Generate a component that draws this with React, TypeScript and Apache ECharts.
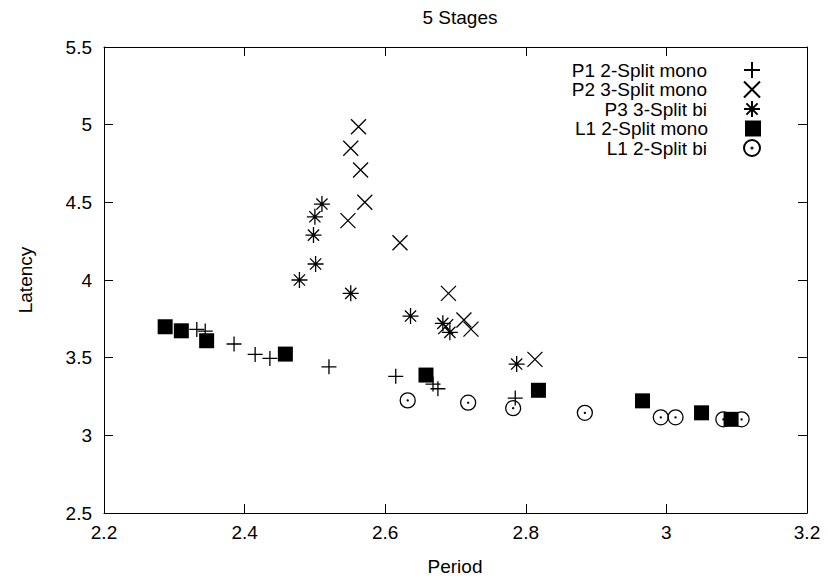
import React, { useEffect, useRef } from "react";
import * as echarts from "echarts";

const xTicks = [2.2, 2.4, 2.6, 2.8, 3, 3.2];
const yTicks = [2.5, 3, 3.5, 4, 4.5, 5, 5.5];

const seriesNames = [
  "P1 2-Split mono",
  "P2 3-Split mono",
  "P3 3-Split bi",
  "L1 2-Split mono",
  "L1 2-Split bi",
];

const p1X = [2.332, 2.344, 2.385, 2.415, 2.436, 2.52, 2.615, 2.668, 2.675, 2.785];
const p1Y = [3.682, 3.671, 3.588, 3.521, 3.495, 3.441, 3.38, 3.33, 3.3, 3.24];

const p2X = [2.562, 2.551, 2.565, 2.571, 2.547, 2.621, 2.69, 2.686, 2.712, 2.722, 2.813];
const p2Y = [4.987, 4.848, 4.708, 4.5, 4.382, 4.24, 3.914, 3.7, 3.742, 3.684, 3.489];

const p3X = [2.478, 2.501, 2.498, 2.5, 2.51, 2.551, 2.636, 2.682, 2.692, 2.787];
const p3Y = [4.0, 4.103, 4.289, 4.407, 4.489, 3.914, 3.768, 3.721, 3.663, 3.459];

const l1mX = [2.287, 2.31, 2.346, 2.458, 2.658, 2.818, 2.966, 3.05, 3.092];
const l1mY = [3.699, 3.673, 3.609, 3.523, 3.388, 3.29, 3.222, 3.145, 3.103];

const l1bX = [2.632, 2.718, 2.782, 2.884, 2.992, 3.013, 3.081, 3.107];
const l1bY = [3.225, 3.21, 3.175, 3.145, 3.116, 3.116, 3.103, 3.103];

const FONT = "'Liberation Sans', Arial, sans-serif";
const FS = 19;

const SYM_PLUS = "path://M0,5L10,5M5,0L5,10";
const SYM_CROSS = "path://M0,0L10,10M10,0L0,10";
const SYM_STAR = "path://M0,5L10,5M5,0L5,10M1.5,1.5L8.5,8.5M8.5,1.5L1.5,8.5";
const SYM_SQUARE = "path://M0,0L10,0L10,10L0,10Z";
const SYM_ODOT =
  "path://M10,5A5,5,0,1,1,0,5A5,5,0,1,1,10,5ZM5.35,5A0.35,0.35,0,1,1,4.65,5A0.35,0.35,0,1,1,5.35,5Z";

function pairs(xs: number[], ys: number[]) {
  return xs.map((x, i) => [x, ys[i]]);
}

export default function App() {
  const ref = useRef<HTMLDivElement>(null);
  useEffect(() => {
    if (!ref.current) return;
    const chart = echarts.init(ref.current, null, { renderer: "svg" });
    const strokeStyle = {
      color: "rgba(0,0,0,0)",
      borderColor: "#000",
      borderWidth: 1.3,
      opacity: 1,
    };
    const axisCommon = {
      type: "value" as const,
      axisLine: { show: true, onZero: false, lineStyle: { color: "#000", width: 1 } },
      axisTick: { show: true, inside: true, length: 9, lineStyle: { color: "#000", width: 1 } },
      splitLine: { show: false },
    };
    const rowCenters = [68.5, 88, 107.5, 127, 146.5];
    const legends = seriesNames.map((n, i) => ({
      data: [n],
      orient: "vertical",
      align: "right",
      right: 68,
      top: rowCenters[i] - 8,
      itemWidth: 80,
      itemHeight: 16,
      selectedMode: false,
      padding: 0,
      textStyle: { fontFamily: FONT, fontSize: FS, lineHeight: 18, color: "#000" },
    }));
    chart.setOption({
      animation: false,
      backgroundColor: "#fff",
      title: {
        text: "5 Stages",
        left: 455,
        top: 3,
        textAlign: "center",
        textStyle: { fontFamily: FONT, fontSize: FS, fontWeight: "normal", color: "#000" },
      },
      legend: legends,
      grid: { left: 104, right: 22, top: 47, bottom: 67, containLabel: false },
      xAxis: [
        {
          ...axisCommon,
          position: "bottom",
          min: xTicks[0],
          max: xTicks[xTicks.length - 1],
          interval: 0.2,
          axisLabel: {
            fontFamily: FONT,
            fontSize: FS,
            color: "#000",
            margin: 10,
            formatter: (v: number) => String(Math.round(v * 10) / 10),
          },
        },
        {
          ...axisCommon,
          position: "top",
          min: xTicks[0],
          max: xTicks[xTicks.length - 1],
          interval: 0.2,
          axisLabel: { show: false },
        },
      ],
      yAxis: [
        {
          ...axisCommon,
          position: "left",
          min: yTicks[0],
          max: yTicks[yTicks.length - 1],
          interval: 0.5,
          axisLabel: {
            fontFamily: FONT,
            fontSize: FS,
            color: "#000",
            margin: 12,
            formatter: (v: number) => String(Math.round(v * 10) / 10),
          },
        },
        {
          ...axisCommon,
          position: "right",
          min: yTicks[0],
          max: yTicks[yTicks.length - 1],
          interval: 0.5,
          axisLabel: { show: false },
        },
      ],
      graphic: [
        {
          type: "text",
          x: 25,
          y: 280,
          rotation: Math.PI / 2,
          style: {
            text: "Latency",
            fontFamily: FONT,
            fontSize: FS,
            fill: "#000",
            align: "center",
            verticalAlign: "middle",
          },
        },
        {
          type: "text",
          x: 455,
          y: 566,
          style: {
            text: "Period",
            fontFamily: FONT,
            fontSize: FS,
            fill: "#000",
            align: "center",
            verticalAlign: "middle",
          },
        },
      ],
      series: [
        {
          name: seriesNames[0],
          type: "scatter",
          symbol: SYM_PLUS,
          symbolSize: 15,
          itemStyle: strokeStyle,
          data: pairs(p1X, p1Y),
        },
        {
          name: seriesNames[1],
          type: "scatter",
          symbol: SYM_CROSS,
          symbolSize: 15,
          itemStyle: strokeStyle,
          data: pairs(p2X, p2Y),
        },
        {
          name: seriesNames[2],
          type: "scatter",
          symbol: SYM_STAR,
          symbolSize: 16,
          itemStyle: strokeStyle,
          data: pairs(p3X, p3Y),
        },
        {
          name: seriesNames[3],
          type: "scatter",
          symbol: SYM_SQUARE,
          symbolSize: 15,
          itemStyle: { color: "#000", opacity: 1 },
          data: pairs(l1mX, l1mY),
        },
        {
          name: seriesNames[4],
          type: "scatter",
          symbol: SYM_ODOT,
          symbolSize: 15,
          itemStyle: strokeStyle,
          data: pairs(l1bX, l1bY),
        },
      ],
    });
    return () => chart.dispose();
  }, []);
  return (
    <div
      ref={ref}
      style={{ position: "absolute", left: 0, top: 0, width: 829, height: 580 }}
    />
  );
}
